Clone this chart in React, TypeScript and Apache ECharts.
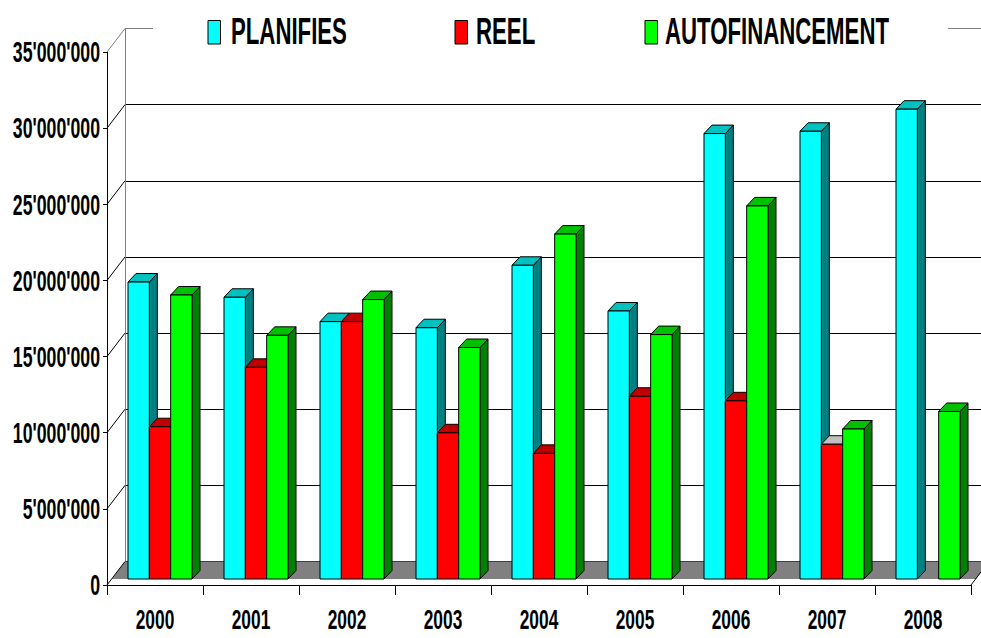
import React, { useEffect, useRef } from "react";
import * as echarts from "echarts";

// ---------- data ----------
const YEARS = ["2000", "2001", "2002", "2003", "2004", "2005", "2006", "2007", "2008"];
const PLANIFIES = [19.5e6, 18.5e6, 16.9e6, 16.5e6, 20.6e6, 17.6e6, 29.25e6, 29.4e6, 30.85e6];
const REEL: (number | null)[] = [10.0e6, 13.9e6, 16.9e6, 9.6e6, 8.25e6, 12.0e6, 11.7e6, 8.85e6, null];
const AUTOFINANCEMENT = [18.65e6, 16.0e6, 18.35e6, 15.2e6, 22.65e6, 16.05e6, 24.5e6, 9.85e6, 11.0e6];
const Y_TICKS = [0, 5e6, 10e6, 15e6, 20e6, 25e6, 30e6, 35e6];
const Y_TICK_LABELS = ["0", "5'000'000", "10'000'000", "15'000'000", "20'000'000", "25'000'000", "30'000'000", "35'000'000"];
const SERIES_NAMES = ["PLANIFIES", "REEL", "AUTOFINANCEMENT"];

// ---------- styles ----------
const FACE_COLORS = [
  { front: "#00FFFF", top: "#00C0C0", side: "#008080" },
  { front: "#FF0000", top: "#C00000", side: "#800000" },
  { front: "#00FF00", top: "#00C000", side: "#008000" },
];
const TOP_OVERRIDE: Record<string, string> = { "1-7": "#C0C0C0" };
const WALL_DX = 18;
const WALL_DY = -23.5;
const BAR_FX = 5;
const BAR_FY = -6;
const BAR_DX = 8;
const BAR_DY = -8.5;
const FONT = '"Liberation Sans", Arial, Helvetica, sans-serif';

function barSeries(sIdx: number, values: (number | null)[]) {
  return {
    type: "custom",
    name: SERIES_NAMES[sIdx],
    xAxisIndex: 0,
    yAxisIndex: 0,
    clip: false,
    z: 4,
    data: values.map((v, i) => [i, v == null ? NaN : v]),
    renderItem: (params: any, api: any) => {
      const ci = api.value(0);
      const v = api.value(1);
      if (v == null || isNaN(v)) return null;
      const base = api.coord([ci, 0]);
      const top = api.coord([ci, v]);
      const band = api.size([1, 0])[0];
      const bw = (band * 2) / 9;
      const x0 = base[0] - band / 3 + sIdx * bw + BAR_FX;
      const yb = base[1] + BAR_FY;
      const yt = top[1] + BAR_FY;
      const c = FACE_COLORS[sIdx];
      const topColor = TOP_OVERRIDE[sIdx + "-" + ci] || c.top;
      const stroke = { stroke: "#000", lineWidth: 1 };
      return {
        type: "group",
        children: [
          {
            type: "polygon",
            shape: {
              points: [
                [x0 + bw, yt],
                [x0 + bw + BAR_DX, yt + BAR_DY],
                [x0 + bw + BAR_DX, yb + BAR_DY],
                [x0 + bw, yb],
              ],
            },
            style: { fill: c.side, ...stroke },
          },
          {
            type: "polygon",
            shape: {
              points: [
                [x0, yt],
                [x0 + bw, yt],
                [x0 + bw + BAR_DX, yt + BAR_DY],
                [x0 + BAR_DX, yt + BAR_DY],
              ],
            },
            style: { fill: topColor, ...stroke },
          },
          {
            type: "rect",
            shape: { x: x0, y: yt, width: bw, height: yb - yt },
            style: { fill: c.front, ...stroke },
          },
        ],
      };
    },
  };
}

export default function App() {
  const ref = useRef<HTMLDivElement>(null);
  useEffect(() => {
    document.body.style.margin = "0";
    if (!ref.current) return;
    const chart = echarts.init(ref.current, undefined, { renderer: "svg" });
    const splitColors = Y_TICKS.map((v, i) => (i === Y_TICKS.length - 1 ? "#808080" : "#000"));
    const option: any = {
      animation: false,
      backgroundColor: "#fff",
      grid: [
        { left: 107, top: 52, width: 864, height: 533 },
        { left: 107 + WALL_DX, top: 52 + WALL_DY, width: 864, height: 533 },
      ],
      xAxis: [
        {
          type: "category",
          gridIndex: 0,
          data: YEARS,
          boundaryGap: true,
          axisLine: { show: true, lineStyle: { color: "#000", width: 1 } },
          axisTick: { show: true, length: 10, lineStyle: { color: "#000" } },
          axisLabel: { show: false },
          splitLine: { show: false },
        },
        { type: "category", gridIndex: 1, data: YEARS, show: false },
      ],
      yAxis: [
        {
          type: "value",
          gridIndex: 0,
          min: 0,
          max: 35e6,
          interval: 5e6,
          axisLine: { show: true, lineStyle: { color: "#000" } },
          axisTick: { show: true, length: 4, lineStyle: { color: "#000" } },
          axisLabel: { show: false },
          splitLine: { show: false },
        },
        {
          type: "value",
          gridIndex: 1,
          min: 0,
          max: 35e6,
          interval: 5e6,
          axisLine: { show: true, lineStyle: { color: "#808080" } },
          axisTick: { show: false },
          axisLabel: { show: false },
          splitLine: { show: true, lineStyle: { color: splitColors, width: 1 } },
        },
      ],
      graphic: {
        elements: [
          { type: "rect", z: 100, shape: { x: 153, y: 8, width: 795, height: 44 }, style: { fill: "#fff" } },
          ...SERIES_NAMES.flatMap((name, i) => {
            const iconX = [208, 455, 645][i];
            const textX = [231, 476, 665][i];
            return [
              {
                type: "rect",
                z: 101,
                shape: { x: iconX, y: 20.5, width: 12.5, height: 23.5 },
                style: { fill: FACE_COLORS[i].front, stroke: "#000", lineWidth: 1 },
              },
              {
                type: "text",
                z: 101,
                x: textX,
                y: 30.5,
                scaleX: 0.6,
                style: {
                  text: name,
                  fontFamily: FONT,
                  fontWeight: "bold",
                  fontSize: 37,
                  lineHeight: 30,
                  fill: "#000",
                  align: "left",
                  verticalAlign: "middle",
                },
              },
            ];
          }),
        ],
      },
      series: [
        // floor
        {
          type: "custom",
          xAxisIndex: 0,
          yAxisIndex: 0,
          clip: false,
          silent: true,
          z: 2,
          data: [[0, 0]],
          renderItem: (params: any, api: any) => {
            const band = api.size([1, 0])[0];
            const p0 = api.coord([0, 0]);
            const pN = api.coord([YEARS.length - 1, 0]);
            const L = p0[0] - band / 2;
            const R = pN[0] + band / 2;
            const y0 = p0[1];
            return {
              type: "group",
              children: [
                {
                  type: "polygon",
                  shape: {
                    points: [
                      [L + BAR_FX, y0 + BAR_FY],
                      [R + BAR_FX, y0 + BAR_FY],
                      [R + WALL_DX, y0 + WALL_DY],
                      [L + WALL_DX, y0 + WALL_DY],
                    ],
                  },
                  style: { fill: "#808080" },
                },
                {
                  type: "line",
                  shape: { x1: R, y1: y0, x2: R + WALL_DX, y2: y0 + WALL_DY },
                  style: { stroke: "#000", lineWidth: 1 },
                },
              ],
            };
          },
        },
        // diagonal connectors from front axis to back wall
        {
          type: "custom",
          xAxisIndex: 0,
          yAxisIndex: 0,
          clip: false,
          silent: true,
          z: 3,
          data: Y_TICKS.map((v) => [0, v]),
          renderItem: (params: any, api: any) => {
            const band = api.size([1, 0])[0];
            const p = api.coord([0, api.value(1)]);
            const L = p[0] - band / 2;
            const last = params.dataIndex === Y_TICKS.length - 1;
            return {
              type: "line",
              shape: { x1: L, y1: p[1], x2: L + WALL_DX, y2: p[1] + WALL_DY },
              style: { stroke: last ? "#808080" : "#000", lineWidth: 1 },
            };
          },
        },
        barSeries(0, PLANIFIES),
        barSeries(1, REEL),
        barSeries(2, AUTOFINANCEMENT),
        // y axis labels
        {
          type: "custom",
          xAxisIndex: 0,
          yAxisIndex: 0,
          clip: false,
          silent: true,
          z: 5,
          data: Y_TICKS.map((v) => [0, v]),
          renderItem: (params: any, api: any) => {
            const band = api.size([1, 0])[0];
            const p = api.coord([0, api.value(1)]);
            return {
              type: "text",
              x: p[0] - band / 2 - 7,
              y: p[1],
              scaleX: 0.59,
              style: {
                text: Y_TICK_LABELS[params.dataIndex],
                fontFamily: FONT,
                fontWeight: "bold",
                fontSize: 30,
                lineHeight: 24,
                fill: "#000",
                align: "right",
                verticalAlign: "middle",
              },
            };
          },
        },
        // x axis labels
        {
          type: "custom",
          xAxisIndex: 0,
          yAxisIndex: 0,
          clip: false,
          silent: true,
          z: 5,
          data: YEARS.map((y, i) => [i, 0]),
          renderItem: (params: any, api: any) => {
            const p = api.coord([api.value(0), 0]);
            return {
              type: "text",
              x: p[0],
              y: p[1] + 34,
              scaleX: 0.62,
              style: {
                text: YEARS[params.dataIndex],
                fontFamily: FONT,
                fontWeight: "bold",
                fontSize: 28,
                lineHeight: 22,
                fill: "#000",
                align: "center",
                verticalAlign: "middle",
              },
            };
          },
        },
      ],
    };
    chart.setOption(option);
    return () => chart.dispose();
  }, []);
  return <div ref={ref} style={{ width: 981, height: 638, background: "#fff" }} />;
}
